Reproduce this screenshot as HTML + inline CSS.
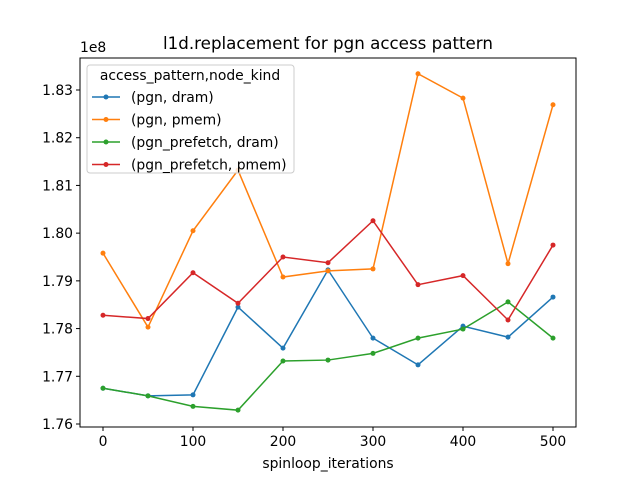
<!DOCTYPE html>
<html><head><meta charset="utf-8"><style>
body{margin:0;background:#fff;font-family:"Liberation Sans","DejaVu Sans",sans-serif;}
svg text{font-family:"DejaVu Sans","Liberation Sans",sans-serif;}
</style></head><body>
<svg id="chart" width="640" height="480" xmlns="http://www.w3.org/2000/svg"></svg>
<script>
const xValues=[0,50,100,150,200,250,300,350,400,450,500];
const seriesNames=["(pgn, dram)","(pgn, pmem)","(pgn_prefetch, dram)","(pgn_prefetch, pmem)"];
const seriesColors=["#1f77b4","#ff7f0e","#2ca02c","#d62728"];
const dramValues=[1.7675,1.7659,1.7661,1.7845,1.7759,1.7923,1.7780,1.7724,1.7805,1.7782,1.7866];
const pmemValues=[1.7958,1.7803,1.8005,1.8132,1.7908,1.7921,1.7925,1.8334,1.8283,1.7936,1.8269];
const prefDramValues=[1.7675,1.7659,1.7637,1.7629,1.7732,1.7734,1.7748,1.7780,1.7799,1.7856,1.7780];
const prefPmemValues=[1.7828,1.7821,1.7917,1.7853,1.7950,1.7938,1.8026,1.7892,1.7911,1.7818,1.7975];
const xTicks=[0,100,200,300,400,500];
const yTicks=[1.76,1.77,1.78,1.79,1.80,1.81,1.82,1.83];
const allSeries=[dramValues,pmemValues,prefDramValues,prefPmemValues];
const NS="http://www.w3.org/2000/svg";
const svg=document.getElementById('chart');
const L=80,R=576,T=58,B=427;
const xs=v=>103+(v-0)*(553-103)/500;
const ys=v=>424-(v-1.76)*(424-90)/0.07;
function el(t,a,p){const e=document.createElementNS(NS,t);for(const k in a)e.setAttribute(k,a[k]);(p||svg).appendChild(e);return e;}
const title=el('text',{x:328,y:49,'text-anchor':'middle','font-size':16.7,fill:'#000'});title.textContent='l1d.replacement for pgn access pattern';


const frame=el('rect',{x:L,y:T,width:R-L,height:B-T,fill:'none',stroke:'#000','stroke-width':1});


xTicks.forEach(v=>{const x=xs(v);
 const t=el('line',{x1:x,x2:x,y1:B,y2:B+4,stroke:'#000'});
 
 
 const l=el('text',{x:x,y:B+19,'text-anchor':'middle','font-size':13.9,fill:'#000'});l.textContent=v;
 
 });
yTicks.forEach(v=>{const y=ys(v);
 const t=el('line',{x1:L-4,x2:L,y1:y,y2:y,stroke:'#000'});
 
 
 const l=el('text',{x:L-7,y:y+5,'text-anchor':'end','font-size':13.9,fill:'#000'});l.textContent=v.toFixed(2);
 
 });
const off=el('text',{x:80,y:52,'font-size':13.9,fill:'#000'});off.textContent='1e8';


const xt=el('text',{x:328,y:468,'text-anchor':'middle','font-size':13.9,fill:'#000'});xt.textContent='spinloop_iterations';


allSeries.forEach((s,i)=>{
 const g=el('g',{});
 
 
 const pl=el('polyline',{points:s.map((v,j)=>xs(xValues[j])+','+ys(v)).join(' '),fill:'none',stroke:seriesColors[i],'stroke-width':1.5},g);
 
 
 s.forEach((v,j)=>{const c=el('circle',{cx:xs(xValues[j]),cy:ys(v),r:2.5,fill:seriesColors[i]},g);
  
  });
});
const lg=el('g',{});


el('rect',{x:87,y:65,width:207,height:108,rx:3,fill:'#fff','fill-opacity':0.8,stroke:'#ccc'},lg);
const lt=el('text',{x:190,y:80,'text-anchor':'middle','font-size':13.9,fill:'#000'},lg);lt.textContent='access_pattern,node_kind';


seriesNames.forEach((n,i)=>{const y=97+i*22.5;
 const e=el('g',{},lg);
 
 
 el('line',{x1:92,x2:120,y1:y,y2:y,stroke:seriesColors[i],'stroke-width':1.5},e);
 el('circle',{cx:106,cy:y,r:2.5,fill:seriesColors[i]},e);
 const t=el('text',{x:131,y:y+5,'font-size':13.9,fill:'#000'},e);t.textContent=n;});
</script>
</body></html>
